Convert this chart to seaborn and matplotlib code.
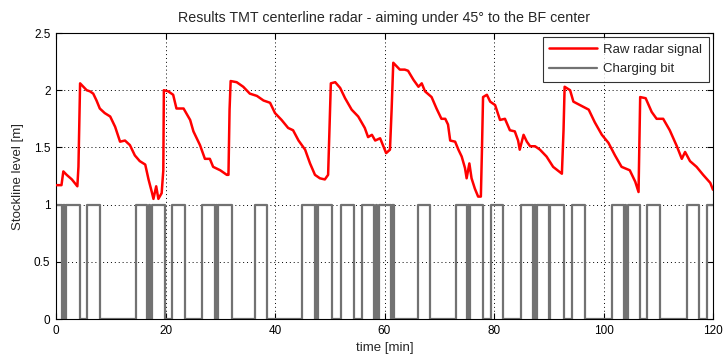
import matplotlib
matplotlib.use("Agg")
import matplotlib.pyplot as plt
import seaborn as sns
import numpy as np
import pandas as pd
from matplotlib.ticker import FormatStrFormatter

# ---- data ----
radar_t = [0.1, 1.0, 1.34, 1.95, 2.9, 3.9, 4.1, 4.4, 5.0, 5.6, 6.2, 6.8, 7.4, 8.0, 8.9, 9.9,
           10.8, 11.7, 12.6, 13.5, 14.4, 15.3, 16.3, 16.9, 17.5, 17.8, 18.3, 18.7, 19.3, 19.6,
           19.7, 20.5, 21.4, 22.0, 23.3, 24.5, 25.1, 26.3, 27.2, 28.1, 28.7, 30.0, 31.2, 31.5,
           31.7, 31.9, 33.0, 34.2, 35.4, 36.7, 37.9, 39.1, 40.0, 41.2, 42.4, 43.3, 44.3, 45.5,
           46.4, 47.3, 48.2, 49.1, 49.7, 49.9, 50.2, 51.0, 51.9, 52.8, 54.0, 55.2, 56.4, 57.0,
           57.7, 58.3, 59.2, 59.8, 60.3, 61.0, 61.3, 61.6, 62.8, 63.7, 64.3, 65.3, 66.2, 66.8,
           67.4, 68.6, 69.5, 70.4, 71.1, 71.6, 72.0, 72.9, 73.5, 74.1, 74.7, 75.0, 75.5, 75.9,
           76.5, 77.1, 77.6, 77.8, 78.0, 78.7, 79.3, 80.2, 81.1, 82.0, 82.9, 83.8, 84.4, 84.7,
           85.4, 86.0, 86.6, 87.5, 88.4, 89.6, 90.8, 92.4, 92.7, 92.9, 93.9, 94.5, 95.7, 97.3,
           98.4, 99.7, 100.9, 102.1, 103.3, 104.8, 105.8, 106.4, 106.6, 106.7, 107.7, 108.8,
           109.7, 110.6, 110.9, 112.1, 113.4, 114.3, 114.9, 115.8, 117.0, 118.2, 119.5, 120.0]
radar_v = [1.17, 1.17, 1.29, 1.26, 1.22, 1.16, 1.33, 2.06, 2.03, 2.00, 1.99, 1.97, 1.91, 1.84,
           1.80, 1.77, 1.68, 1.55, 1.56, 1.52, 1.43, 1.38, 1.35, 1.22, 1.11, 1.05, 1.16, 1.05,
           1.10, 1.30, 2.00, 1.99, 1.96, 1.84, 1.84, 1.74, 1.64, 1.52, 1.40, 1.40, 1.33, 1.30,
           1.26, 1.26, 1.83, 2.08, 2.07, 2.03, 1.97, 1.95, 1.91, 1.89, 1.80, 1.74, 1.67, 1.65,
           1.56, 1.48, 1.36, 1.26, 1.23, 1.22, 1.26, 1.59, 2.06, 2.07, 2.02, 1.93, 1.83, 1.77,
           1.67, 1.59, 1.61, 1.56, 1.58, 1.51, 1.45, 1.48, 1.83, 2.24, 2.18, 2.18, 2.17, 2.09,
           2.03, 2.06, 1.99, 1.94, 1.84, 1.75, 1.75, 1.70, 1.56, 1.55, 1.48, 1.42, 1.32, 1.23,
           1.36, 1.23, 1.14, 1.07, 1.07, 1.48, 1.94, 1.96, 1.90, 1.87, 1.74, 1.75, 1.65, 1.64,
           1.56, 1.48, 1.61, 1.55, 1.51, 1.51, 1.48, 1.42, 1.33, 1.27, 1.65, 2.03, 2.00, 1.90,
           1.87, 1.83, 1.72, 1.61, 1.54, 1.43, 1.33, 1.30, 1.20, 1.11, 1.65, 1.94, 1.93, 1.81,
           1.75, 1.75, 1.75, 1.65, 1.51, 1.40, 1.46, 1.38, 1.33, 1.26, 1.19, 1.13]

charge_t = [0.0, 1.1, 1.35, 1.6, 1.9, 4.4, 5.6, 8.0, 14.6, 16.7, 16.95, 17.2, 17.45,
            19.9, 21.1, 23.6, 26.6, 29.0, 29.2, 29.4, 29.6, 32.1, 36.3, 38.5, 44.9,
            47.3, 47.5, 47.7, 47.9, 50.4, 52.0, 54.4, 55.9, 58.1, 58.4, 58.7, 59.0,
            61.2, 61.45, 61.7, 66.1, 68.3, 73.1, 75.1, 75.3, 75.45, 75.6, 78.0, 79.4,
            81.6, 84.9, 87.1, 87.35, 87.6, 87.9, 90.0, 90.2, 92.8, 94.2, 96.6, 101.6,
            103.7, 103.95, 104.2, 104.5, 106.7, 107.9, 110.3, 115.2, 117.4, 118.9, 120.0]
charge_v = [1, 0, 1, 0, 1, 0, 1, 0, 1, 0, 1, 0, 1,
            0, 1, 0, 1, 0, 1, 0, 1, 0, 1, 0, 1,
            0, 1, 0, 1, 0, 1, 0, 1, 0, 1, 0, 1,
            0, 1, 0, 1, 0, 1, 0, 1, 0, 1, 0, 1,
            0, 1, 0, 1, 0, 1, 0, 1, 0, 1, 0, 1,
            0, 1, 0, 1, 0, 1, 0, 1, 0, 1, 1]

title = "Results TMT centerline radar - aiming under 45\u00b0 to the BF center"
xlabel = "time [min]"
ylabel = "Stockline level [m]"
legend_labels = ["Raw radar signal", "Charging bit"]

# ---- plotting ----
sns.set_theme(style="white")
plt.rcParams['font.family'] = ['Liberation Sans', 'DejaVu Sans']

fig = plt.figure(figsize=(7.27, 3.56), dpi=100)
fig.patch.set_facecolor("white")
ax = fig.add_axes([56 / 727, 1 - 319 / 356, (713 - 56) / 727, (319 - 33) / 356])

df_r = pd.DataFrame({"t": radar_t, "v": radar_v})
df_c = pd.DataFrame({"t": charge_t, "v": charge_v})

sns.lineplot(data=df_c, x="t", y="v", ax=ax, color="#727272", linewidth=1.6,
             drawstyle="steps-post", sort=False, estimator=None, label=legend_labels[1], zorder=2)
sns.lineplot(data=df_r, x="t", y="v", ax=ax, color="#ff0000", linewidth=1.8,
             sort=False, estimator=None, label=legend_labels[0], zorder=3)

ax.set_xlim(0, 120)
ax.set_ylim(0, 2.5)
ax.set_xticks(np.arange(0, 121, 20))
ax.set_yticks(np.arange(0, 2.51, 0.5))
ax.yaxis.set_major_formatter(FormatStrFormatter('%g'))
ax.grid(True, color="black", linestyle=(0, (1, 3)), linewidth=0.7)
ax.set_axisbelow(True)
for s in ax.spines.values():
    s.set_color("black")
    s.set_linewidth(0.8)
ax.tick_params(direction="in", length=4, width=0.8, colors="black", labelsize=8.5,
               top=True, right=True, bottom=True, left=True, pad=4)
ax.set_title(title, fontsize=10.3, pad=8)
ax.set_xlabel(xlabel, fontsize=9.5, labelpad=4)
ax.set_ylabel(ylabel, fontsize=9.5, labelpad=7)

h, l = ax.get_legend_handles_labels()
order = [l.index(legend_labels[0]), l.index(legend_labels[1])]
leg = ax.legend([h[i] for i in order], [l[i] for i in order], loc="upper right",
                fontsize=9.5, frameon=True, fancybox=False, handlelength=3.6,
                borderaxespad=0.3, borderpad=0.5, labelspacing=0.55, handletextpad=0.5)
leg.get_frame().set_edgecolor("black")
leg.get_frame().set_linewidth(0.8)

fig.savefig("out.png", dpi=100, facecolor="white")
